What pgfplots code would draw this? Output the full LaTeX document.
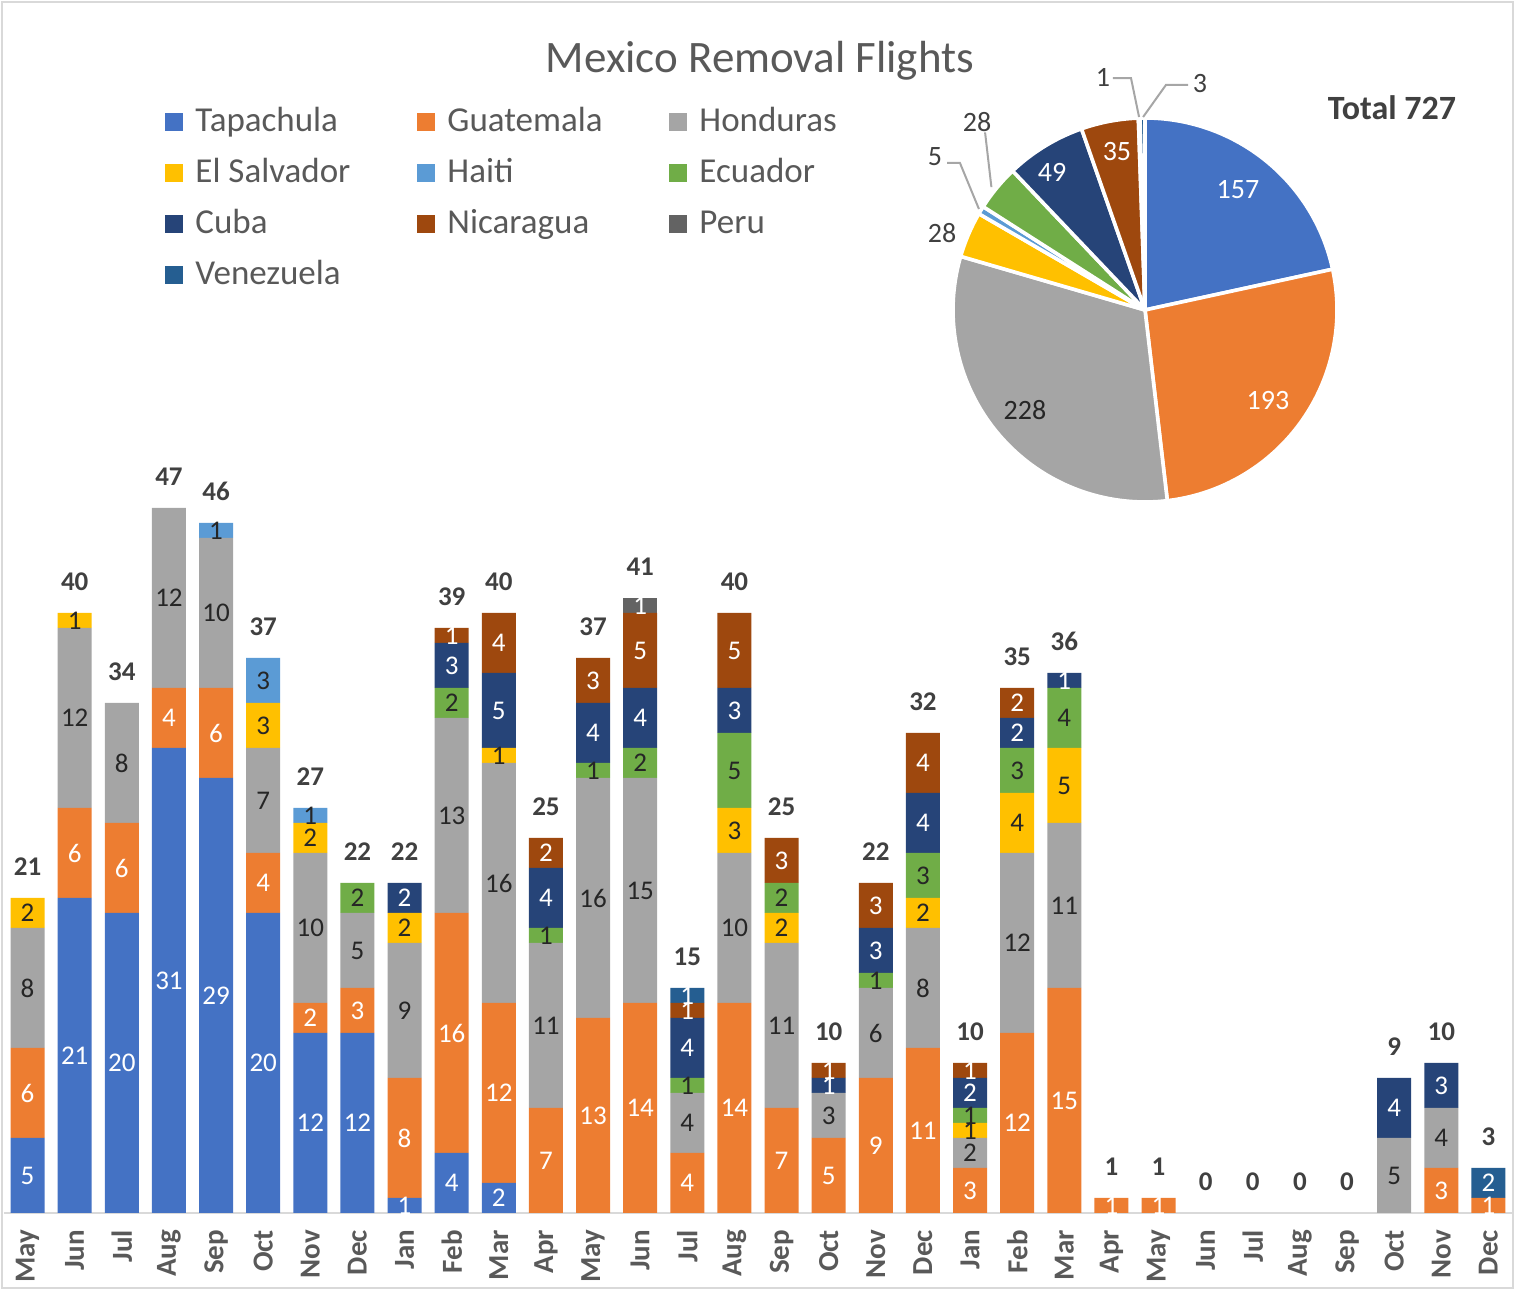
\documentclass[border=0pt]{standalone}
\usepackage{pgfplots}
\pgfplotsset{compat=1.18}
\usepackage{pgfplotstable}
\usepackage{fontspec}
\setmainfont{Carlito}
\definecolor{tap}{HTML}{4472C4}
\definecolor{gua}{HTML}{ED7D31}
\definecolor{hon}{HTML}{A5A5A5}
\definecolor{es}{HTML}{FFC000}
\definecolor{hai}{HTML}{5B9BD5}
\definecolor{ecu}{HTML}{70AD47}
\definecolor{cub}{HTML}{264478}
\definecolor{nic}{HTML}{9E480E}
\definecolor{per}{HTML}{636363}
\definecolor{ven}{HTML}{255E91}
\definecolor{labdark}{HTML}{262626}
\definecolor{totgray}{HTML}{404040}
\definecolor{txtgray}{HTML}{595959}
\definecolor{framegray}{HTML}{D9D9D9}
\definecolor{leadgray}{HTML}{A6A6A6}

\tikzset{
  seglab/.style={font=\fontsize{13.5}{13.5}\selectfont, inner sep=0pt, anchor=center},
  totlab/.style={font=\bfseries\fontsize{13.5}{13.5}\selectfont, inner sep=0pt, anchor=south, yshift=11pt, text=totgray},
  pielab/.style={font=\fontsize{14}{14}\selectfont, inner sep=0pt},
}

\pgfplotstableread{
x Tap Gua Hon ES Hai Ecu Cub Nic Per Ven Tot
0 5 6 8 2 0 0 0 0 0 0 21
1 21 6 12 1 0 0 0 0 0 0 40
2 20 6 8 0 0 0 0 0 0 0 34
3 31 4 12 0 0 0 0 0 0 0 47
4 29 6 10 0 1 0 0 0 0 0 46
5 20 4 7 3 3 0 0 0 0 0 37
6 12 2 10 2 1 0 0 0 0 0 27
7 12 3 5 0 0 2 0 0 0 0 22
8 1 8 9 2 0 0 2 0 0 0 22
9 4 16 13 0 0 2 3 1 0 0 39
10 2 12 16 1 0 0 5 4 0 0 40
11 0 7 11 0 0 1 4 2 0 0 25
12 0 13 16 0 0 1 4 3 0 0 37
13 0 14 15 0 0 2 4 5 1 0 41
14 0 4 4 0 0 1 4 1 0 1 15
15 0 14 10 3 0 5 3 5 0 0 40
16 0 7 11 2 0 2 0 3 0 0 25
17 0 5 3 0 0 0 1 1 0 0 10
18 0 9 6 0 0 1 3 3 0 0 22
19 0 11 8 2 0 3 4 4 0 0 32
20 0 3 2 1 0 1 2 1 0 0 10
21 0 12 12 4 0 3 2 2 0 0 35
22 0 15 11 5 0 4 1 0 0 0 36
23 0 1 0 0 0 0 0 0 0 0 1
24 0 1 0 0 0 0 0 0 0 0 1
25 0 0 0 0 0 0 0 0 0 0 0
26 0 0 0 0 0 0 0 0 0 0 0
27 0 0 0 0 0 0 0 0 0 0 0
28 0 0 0 0 0 0 0 0 0 0 0
29 0 0 5 0 0 0 4 0 0 0 9
30 0 3 4 0 0 0 3 0 0 0 10
31 0 1 0 0 0 0 0 0 0 2 3
}\flights

\newcommand\lgbox[1]{\makebox[111pt][l]{#1}}
\newcommand\slice[3]{%
  \pgfmathsetmacro\angA{90-#2/727*360}%
  \pgfmathsetmacro\angB{90-#1/727*360}%
  \edef\temp{\noexpand\addplot[fill=#3, draw=white, line width=1.8pt, line join=round, domain=\angA:\angB, samples=80, variable=\noexpand\t] ({cos(\noexpand\t)},{sin(\noexpand\t)}) -- (0,0) -- cycle;}%
  \temp
}
\pgfplotsset{baraxis/.style={
  at={(2pt,38.5pt)}, anchor=south west,
  scale only axis, width=754pt, height=600pt,
  xmin=-0.5, xmax=31.5, ymin=0, ymax=80,
  enlargelimits=false, clip=false}}

\begin{document}
\begin{tikzpicture}
\useasboundingbox (0,0) rectangle (757.5pt,645pt);
\draw[framegray, line width=0.8pt] (1pt,1pt) rectangle (756.5pt,644pt);

\node[font=\fontsize{22.5}{22.5}\selectfont, text=txtgray] at (380pt,614.5pt) {Mexico Removal Flights};

\begin{axis}[
  baraxis,
  ybar stacked, bar width=17pt,
  axis y line=none, axis x line*=bottom,
  x axis line style={draw=framegray, line width=1pt, -},
  xtick={0,...,31},
  xticklabels={May,Jun,Jul,Aug,Sep,Oct,Nov,Dec,Jan,Feb,Mar,Apr,May,Jun,Jul,Aug,Sep,Oct,Nov,Dec,Jan,Feb,Mar,Apr,May,Jun,Jul,Aug,Sep,Oct,Nov,Dec},
  major tick length=0pt,
  xticklabel shift=5pt,
  xticklabel style={rotate=90, anchor=east, font=\bfseries\fontsize{14.5}{14.5}\selectfont, text=txtgray},
  legend columns=3,
  legend cell align=left,
  legend style={at={(axis description cs:0.1068,0.92)}, anchor=north west, draw=none, fill=none,
    font=\fontsize{17.5}{17.5}\selectfont, text=txtgray, inner sep=0pt,
    nodes={inner sep=0pt, text height=11pt, text depth=2pt},
    row sep=12.5pt,
    /tikz/every odd column/.append style={column sep=6pt},
    /tikz/every even column/.append style={column sep=0pt}},
  legend image code/.code={\fill[#1] (0pt,-4.5pt) rectangle (9pt,4.5pt);},
]
\addplot[fill=tap, draw=none] table[x=x,y=Tap]{\flights}; \addlegendentry{\lgbox{Tapachula}}
\addplot[fill=gua, draw=none] table[x=x,y=Gua]{\flights}; \addlegendentry{\lgbox{Guatemala}}
\addplot[fill=hon, draw=none] table[x=x,y=Hon]{\flights}; \addlegendentry{\lgbox{Honduras}}
\addplot[fill=es, draw=none] table[x=x,y=ES]{\flights}; \addlegendentry{\lgbox{El Salvador}}
\addplot[fill=hai, draw=none] table[x=x,y=Hai]{\flights}; \addlegendentry{\lgbox{Haiti}}
\addplot[fill=ecu, draw=none] table[x=x,y=Ecu]{\flights}; \addlegendentry{\lgbox{Ecuador}}
\addplot[fill=cub, draw=none] table[x=x,y=Cub]{\flights}; \addlegendentry{\lgbox{Cuba}}
\addplot[fill=nic, draw=none] table[x=x,y=Nic]{\flights}; \addlegendentry{\lgbox{Nicaragua}}
\addplot[fill=per, draw=none] table[x=x,y=Per]{\flights}; \addlegendentry{\lgbox{Peru}}
\addplot[fill=ven, draw=none] table[x=x,y=Ven]{\flights}; \addlegendentry{\lgbox{Venezuela}}
\end{axis}

% value labels, drawn over the bars
\begin{axis}[baraxis, hide axis]
\foreach \r in {0,...,31}{%
  \gdef\cum{0}%
  \foreach \c/\tc in {Tap/white,Gua/white,Hon/labdark,ES/labdark,Hai/labdark,Ecu/labdark,Cub/white,Nic/white,Per/white,Ven/white}{%
    \pgfplotstablegetelem{\r}{\c}\of\flights
    \let\myv\pgfplotsretval
    \ifdim\myv pt>0pt
      \pgfmathsetmacro\ymid{\cum+\myv/2}%
      \edef\temp{\noexpand\node[seglab,text=\tc] at (axis cs:\r,\ymid) {\myv};}%
      \temp
      \pgfmathsetmacro\newcum{\cum+\myv}%
      \xdef\cum{\newcum}%
    \fi
  }%
  \pgfplotstablegetelem{\r}{Tot}\of\flights
  \let\mytot\pgfplotsretval
  \edef\temp{\noexpand\node[totlab] at (axis cs:\r,\mytot) {\mytot};}%
  \temp
}
\end{axis}

\begin{axis}[
  at={(572.5pt,490pt)}, anchor=center,
  scale only axis, width=288pt, height=288pt,
  xmin=-1.5, xmax=1.5, ymin=-1.5, ymax=1.5,
  hide axis, clip=false,
]
\slice{0}{157}{tap}
\slice{157}{350}{gua}
\slice{350}{578}{hon}
\slice{578}{606}{es}
\slice{606}{611}{hai}
\slice{611}{639}{ecu}
\slice{639}{688}{cub}
\slice{688}{723}{nic}
\slice{723}{724}{per}
\slice{724}{727}{ven}
\node[pielab, text=white] at (axis cs:0.484,0.625) {157};
\node[pielab, text=white] at (axis cs:0.64,-0.469) {193};
\node[pielab, text=labdark] at (axis cs:-0.625,-0.52) {228};
\node[pielab, text=white] at (axis cs:-0.484,0.719) {49};
\node[pielab, text=white] at (axis cs:-0.146,0.823) {35};
\node[pielab, text=totgray] at (axis cs:-1.057,0.401) {28};
\node[pielab, text=totgray] at (axis cs:-1.094,0.797) {5};
\node[pielab, text=totgray] at (axis cs:-0.875,0.979) {28};
\node[pielab, text=totgray] at (axis cs:-0.219,1.21) {1};
\node[pielab, text=totgray] at (axis cs:0.286,1.182) {3};
\draw[leadgray, line width=1pt] (axis cs:-1.031,0.766) -- (axis cs:-0.964,0.766) -- (axis cs:-0.865,0.526);
\draw[leadgray, line width=1pt] (axis cs:-0.833,0.925) -- (axis cs:-0.80,0.64);
\draw[leadgray, line width=1pt] (axis cs:-0.167,1.208) -- (axis cs:-0.073,1.208) -- (axis cs:-0.031,1.005);
\draw[leadgray, line width=1pt] (axis cs:0.224,1.172) -- (axis cs:0.109,1.172) -- (axis cs:-0.01,1.005);
\node[font=\bfseries\fontsize{17}{17}\selectfont, text=totgray] at (axis cs:1.286,1.052) {Total 727};
\end{axis}
\end{tikzpicture}
\end{document}
